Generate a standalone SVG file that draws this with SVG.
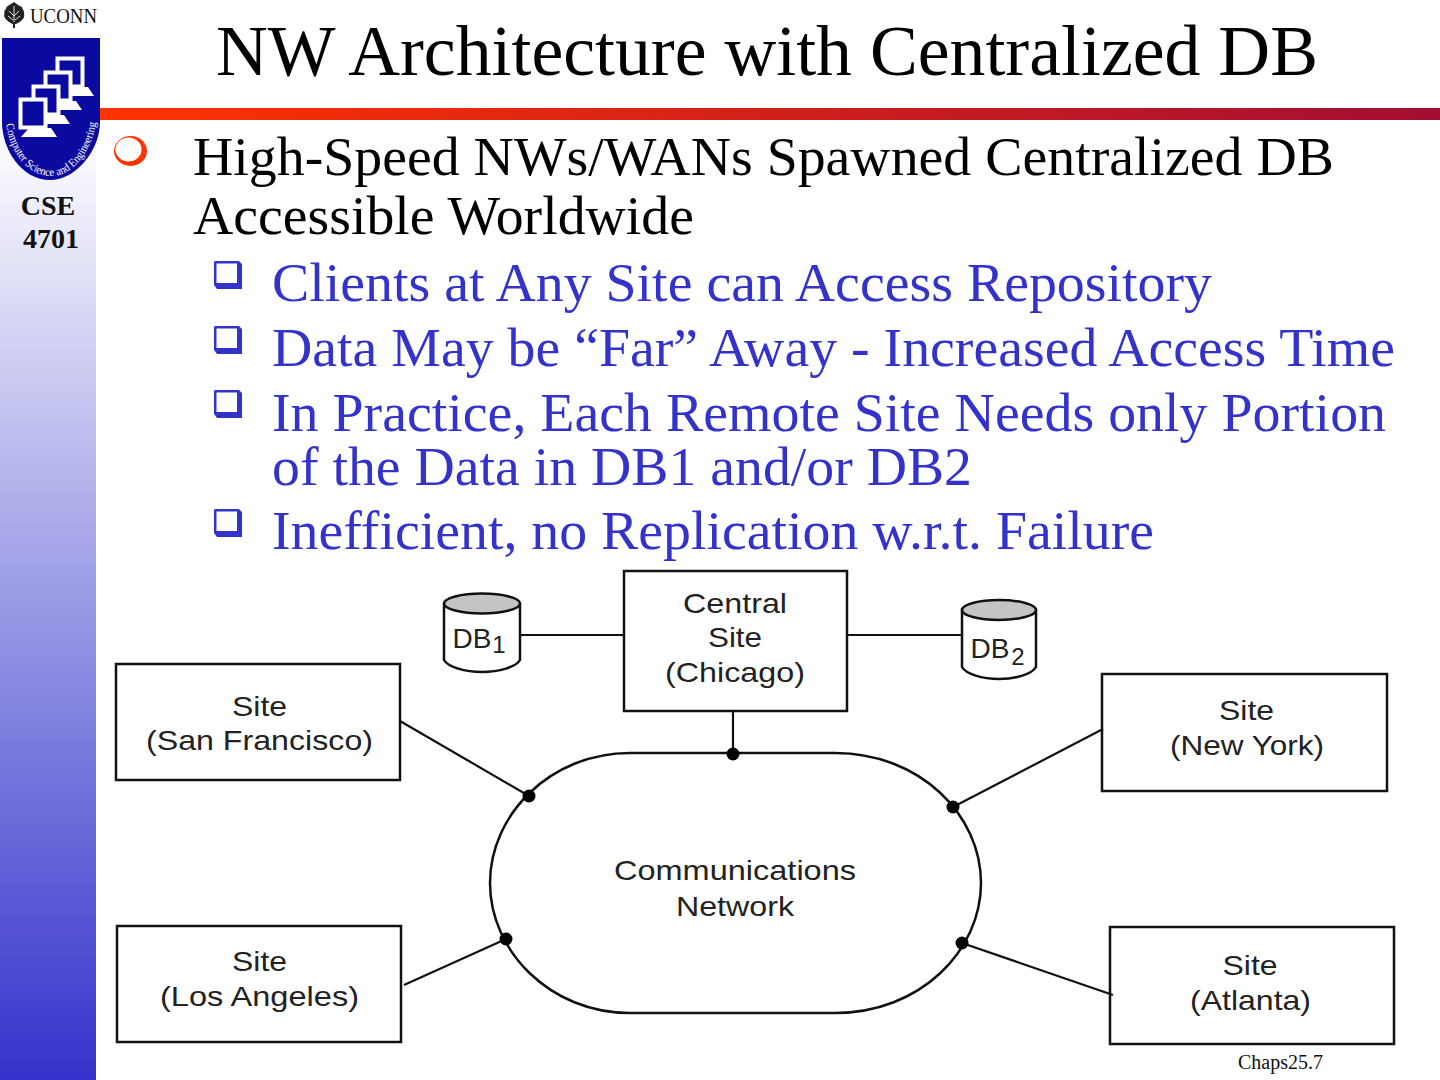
<svg xmlns="http://www.w3.org/2000/svg" width="1440" height="1080" viewBox="0 0 1440 1080">
<defs>
<linearGradient id="side" x1="0" y1="0" x2="0" y2="1"><stop offset="0" stop-color="#ffffff"/><stop offset="0.12" stop-color="#ffffff"/><stop offset="1" stop-color="#3333cc"/></linearGradient>
<linearGradient id="bar" x1="0" y1="0" x2="1" y2="0"><stop offset="0" stop-color="#ff3300"/><stop offset="1" stop-color="#a30e33"/></linearGradient>
<path id="sq" d="M1 0H25L28 3V28H3L0 24V1Z M2.500 2.500V22H23V2.500Z" fill="#3333cc" fill-rule="evenodd"/>
<g id="mon">
<path d="M10 30H32L38 39H2Z" fill="#fff"/>
<rect x="1.500" y="1.500" width="25" height="28" fill="#0a0aa0" stroke="#fff" stroke-width="4"/>
</g>
</defs>
<style>
.t{font-family:"Liberation Serif",serif}
.h{font-size:71px;fill:#000}
.b{font-size:55px;fill:#000}
.s{font-size:55px;fill:#3333cc}
.l{font-family:"Liberation Sans",Arial,sans-serif;font-size:28px;fill:#222;text-anchor:middle}
.sub{font-size:24px}
.box{fill:#fff;stroke:#111;stroke-width:2.5}
.c{fill:none;stroke:#111;stroke-width:2.2}
.d{fill:#000}
.db{fill:#fff;stroke:#111;stroke-width:2.5}
.top{fill:#c4c4c4;stroke:#111;stroke-width:2.5}
</style>
<rect width="1440" height="1080" fill="#fff"/>
<rect id="sidebar" x="0" y="0" width="96" height="1080" fill="url(#side)"/>
<rect id="redbar" x="100" y="108" width="1340" height="12" fill="url(#bar)"/>
<g id="logo">
<path d="M14 2C10 5 6 6 6 9C3 11 5 14 4 16C5 19 7 20 9 22C11 23 12 24 13 24V28H15V24C17 24 19 22 21 21C23 19 25 17 24 14C25 11 22 9 22 7C19 6 17 4 14 2Z" fill="#222"/>
<path d="M14 6V22M9 11L14 16M19 11L14 16M8 16L13 20M20 16L15 20" stroke="#ddd" stroke-width="1" fill="none"/>
<text x="30" y="23" class="t" font-size="22" fill="#111" textLength="67" lengthAdjust="spacingAndGlyphs">UCONN</text>
<path d="M2 38H100V122C100 150 76 180 50 180C22 180 2 150 2 122Z" fill="#0a0aa0"/>
<use href="#mon" x="56" y="57"/>
<use href="#mon" x="44" y="71"/>
<use href="#mon" x="32" y="85"/>
<use href="#mon" x="19" y="98"/>
<path id="arc" d="M6 124C10 152 28 176 51 176C74 176 92 150 96 122" fill="none"/>
<text font-family="Liberation Serif,serif" font-size="11.500" fill="#fff"><textPath href="#arc" textLength="150" lengthAdjust="spacingAndGlyphs">Computer Science and Engineering</textPath></text>
</g>
<g id="course" class="t" font-size="28" font-weight="bold" fill="#111" text-anchor="middle">
<text x="48" y="215">CSE</text>
<text x="51" y="248">4701</text>
</g>
<text class="t h" x="216" y="75" textLength="1102" lengthAdjust="spacingAndGlyphs">NW Architecture with Centralized DB</text>
<g id="bullets">
<ellipse cx="130.500" cy="151" rx="16.500" ry="15" fill="#ff3300"/>
<ellipse cx="128.500" cy="149.500" rx="13" ry="12" fill="#fff"/>
<use href="#sq" x="214" y="261"/>
<use href="#sq" x="214" y="326"/>
<use href="#sq" x="214" y="390"/>
<use href="#sq" x="214" y="509"/>
</g>
<g id="text" class="t">
<text class="b" x="193" y="175" textLength="1141" lengthAdjust="spacingAndGlyphs">High-Speed NWs/WANs Spawned Centralized DB</text>
<text class="b" x="193" y="234" textLength="501" lengthAdjust="spacingAndGlyphs">Accessible Worldwide</text>
<text class="s" x="272" y="300.500" textLength="940" lengthAdjust="spacingAndGlyphs">Clients at Any Site can Access Repository</text>
<text class="s" x="272" y="365.500" textLength="1123" lengthAdjust="spacingAndGlyphs">Data May be “Far” Away - Increased Access Time</text>
<text class="s" x="272" y="430.500" textLength="1114" lengthAdjust="spacingAndGlyphs">In Practice, Each Remote Site Needs only Portion</text>
<text class="s" x="272" y="484.500" textLength="700" lengthAdjust="spacingAndGlyphs">of the Data in DB1 and/or DB2</text>
<text class="s" x="272" y="548.500" textLength="882" lengthAdjust="spacingAndGlyphs">Inefficient, no Replication w.r.t. Failure</text>
</g>
<g id="network">
<path class="box" d="M630 753H835C920 753 981 815 981 883C981 951 920 1013 835 1013H630C550 1013 490 951 490 883C490 815 550 753 630 753Z"/>
<text class="l" x="735" y="880" textLength="242" lengthAdjust="spacingAndGlyphs">Communications</text>
<text class="l" x="735" y="916" textLength="118" lengthAdjust="spacingAndGlyphs">Network</text>
</g>
<g id="db1">
<path class="db" d="M444 604V660C448 667 465 672 482 672C499 672 516 667 520 660V604Z"/>
<ellipse class="top" cx="482" cy="603.500" rx="38" ry="10"/>
<text class="l" x="472" y="648" textLength="39" lengthAdjust="spacingAndGlyphs">DB</text><text class="l sub" x="499" y="653">1</text>
</g>
<g id="db2">
<path class="db" d="M962 610V667C966 674 982 679 999 679C1016 679 1032 674 1036 667V610Z"/>
<ellipse class="top" cx="999" cy="610" rx="37" ry="10"/>
<text class="l" x="990" y="658" textLength="39" lengthAdjust="spacingAndGlyphs">DB</text><text class="l sub" x="1018" y="665">2</text>
</g>
<g id="central">
<rect class="box" x="624" y="571" width="223" height="140"/>
<text class="l" x="735" y="613" textLength="104" lengthAdjust="spacingAndGlyphs">Central</text><text class="l" x="735" y="647" textLength="54" lengthAdjust="spacingAndGlyphs">Site</text><text class="l" x="735" y="682" textLength="140" lengthAdjust="spacingAndGlyphs">(Chicago)</text>
</g>
<g id="sf">
<rect class="box" x="116" y="664" width="284" height="116"/>
<text class="l" x="259.500" y="716" textLength="55" lengthAdjust="spacingAndGlyphs">Site</text><text class="l" x="259.500" y="750" textLength="227" lengthAdjust="spacingAndGlyphs">(San Francisco)</text>
</g>
<g id="ny">
<rect class="box" x="1102" y="674" width="285" height="117"/>
<text class="l" x="1246.500" y="720" textLength="55" lengthAdjust="spacingAndGlyphs">Site</text><text class="l" x="1247" y="755" textLength="154" lengthAdjust="spacingAndGlyphs">(New York)</text>
</g>
<g id="la">
<rect class="box" x="117" y="926" width="284" height="116"/>
<text class="l" x="259.500" y="971" textLength="55" lengthAdjust="spacingAndGlyphs">Site</text><text class="l" x="259.500" y="1006" textLength="199" lengthAdjust="spacingAndGlyphs">(Los Angeles)</text>
</g>
<g id="atl">
<rect class="box" x="1110" y="927" width="284" height="117"/>
<text class="l" x="1250" y="975" textLength="55" lengthAdjust="spacingAndGlyphs">Site</text><text class="l" x="1250.500" y="1010" textLength="121" lengthAdjust="spacingAndGlyphs">(Atlanta)</text>
</g>
<g id="connectors">
<path class="c" d="M521 635H624"/>
<path class="c" d="M847 635H962"/>
<path class="c" d="M733 710V753"/>
<path class="c" d="M400 721L529 796"/>
<path class="c" d="M1103 729L953 807"/>
<path class="c" d="M404 985L506 939"/>
<path class="c" d="M1113 995L962 943"/>
<circle class="d" cx="733" cy="754" r="6.500"/>
<circle class="d" cx="529" cy="796" r="6.500"/>
<circle class="d" cx="953" cy="807" r="6.500"/>
<circle class="d" cx="506" cy="939" r="6.500"/>
<circle class="d" cx="962" cy="943" r="6.500"/>
</g>
<text class="t" x="1238" y="1069" font-size="20" fill="#111">Chaps25.7</text>
</svg>
